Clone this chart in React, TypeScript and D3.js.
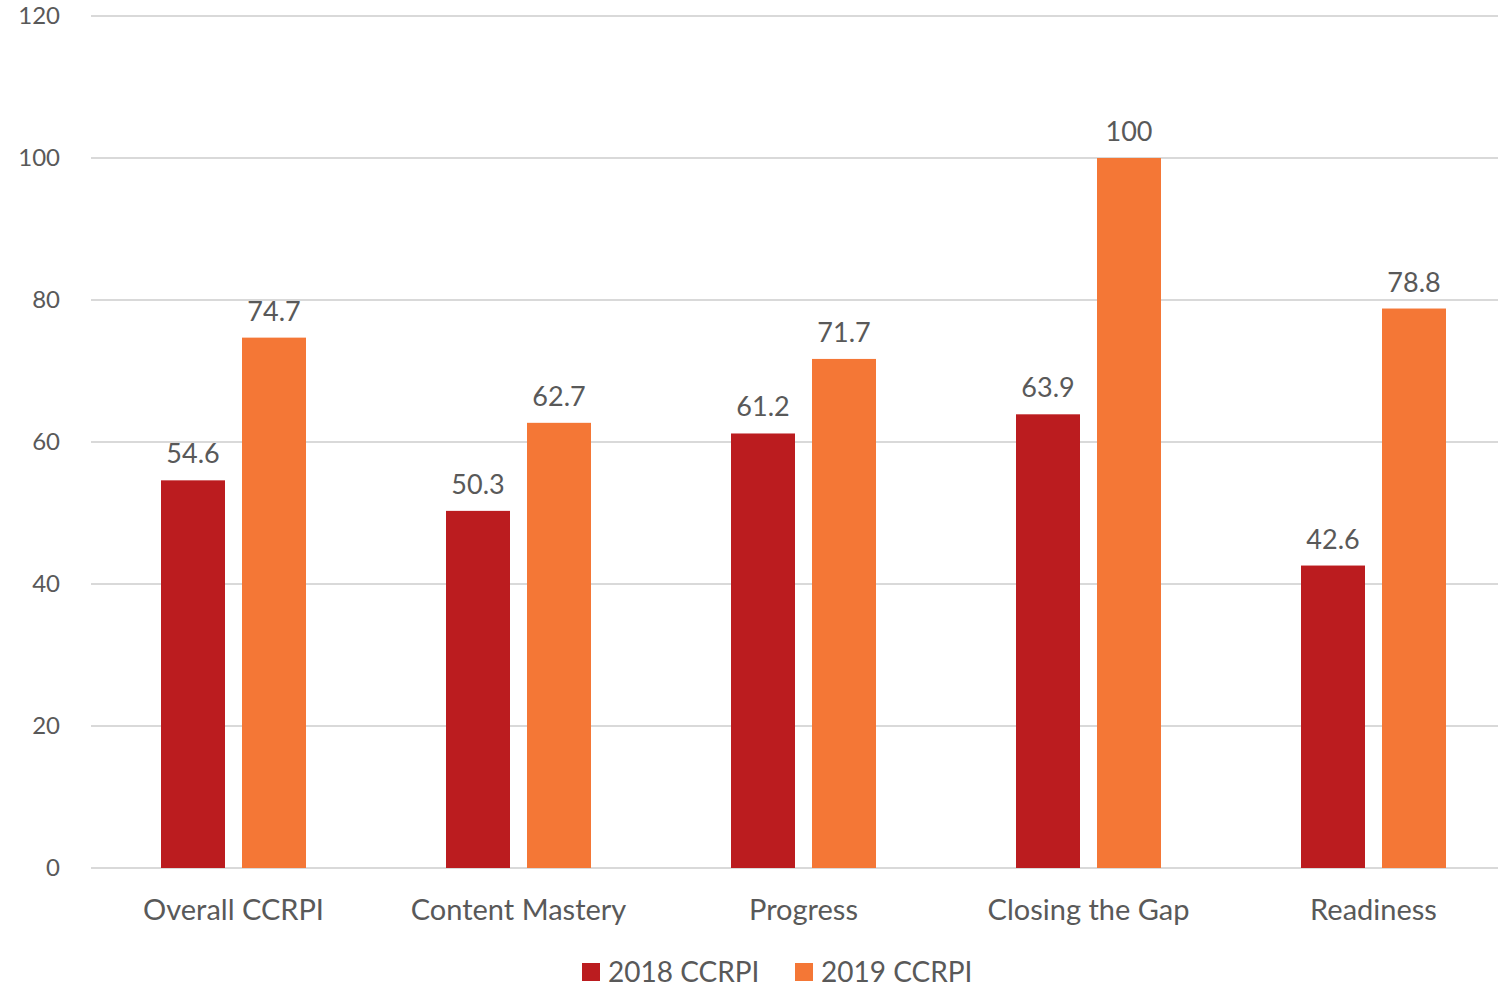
import React from 'react';
import * as d3 from 'd3';

const categories = ['Overall CCRPI', 'Content Mastery', 'Progress', 'Closing the Gap', 'Readiness'];
const seriesNames = ['2018 CCRPI', '2019 CCRPI'];
const values2018 = [54.6, 50.3, 61.2, 63.9, 42.6];
const values2019 = [74.7, 62.7, 71.7, 100, 78.8];
const yTicks = [0, 20, 40, 60, 80, 100, 120];
const colors = ['#BB1C1F', '#F47736'];

const W = 1498;
const H = 990;
const FONT = 'Lato, "Open Sans", sans-serif';
const TEXT = '#595959';

export default function App() {
  const left = 91;
  const top = 16;
  const bottom = 868;

  const y = d3.scaleLinear().domain([0, 120]).range([bottom, top]);

  // band step 285 px, group width 145 px
  const pIn = 1 - 145 / 285;
  const x0 = d3.scaleBand<string>()
    .domain(categories)
    .range([left, left + 285 * categories.length])
    .paddingInner(pIn)
    .paddingOuter(pIn / 2);

  const x1 = d3.scaleBand<string>()
    .domain(seriesNames)
    .range([0, x0.bandwidth()])
    .paddingInner(1 - 64 / 81)
    .paddingOuter(0);

  const series = [values2018, values2019];

  return (
    <svg width={W} height={H} style={{ position: 'absolute', left: 0, top: 0, background: '#fff' }}
      fontFamily={FONT}>
      {/* grid */}
      {yTicks.map(t => (
        <g key={t}>
          <line x1={left} x2={W} y1={y(t)} y2={y(t)} stroke="#D9D9D9" strokeWidth={2} />
          <text x={60} y={y(t)} dy="0.35em" textAnchor="end" fontSize={24} fill={TEXT}>{t}</text>
        </g>
      ))}

      {/* bars */}
      {categories.map((c, i) => (
        <g key={c} transform={`translate(${x0(c)},0)`}>
          {seriesNames.map((s, j) => {
            const v = series[j][i];
            const bx = x1(s)!;
            return (
              <g key={s}>
                <rect x={bx} y={y(v)} width={x1.bandwidth()} height={bottom - y(v)} fill={colors[j]} />
                <text x={bx + x1.bandwidth() / 2} y={y(v) - 17} textAnchor="middle" fontSize={27} fill={TEXT}>
                  {String(v)}
                </text>
              </g>
            );
          })}
          <text x={x0.bandwidth() / 2} y={920} textAnchor="middle" fontSize={29} fill={TEXT}>{c}</text>
        </g>
      ))}

      {/* legend */}
      {seriesNames.map((s, j) => {
        const lx = j === 0 ? 582 : 795;
        return (
          <g key={s} transform={`translate(${lx},963)`}>
            <rect width={18} height={18} fill={colors[j]} />
            <text x={26} y={9} dy="0.35em" fontSize={28} fill={TEXT}>{s}</text>
          </g>
        );
      })}
    </svg>
  );
}
